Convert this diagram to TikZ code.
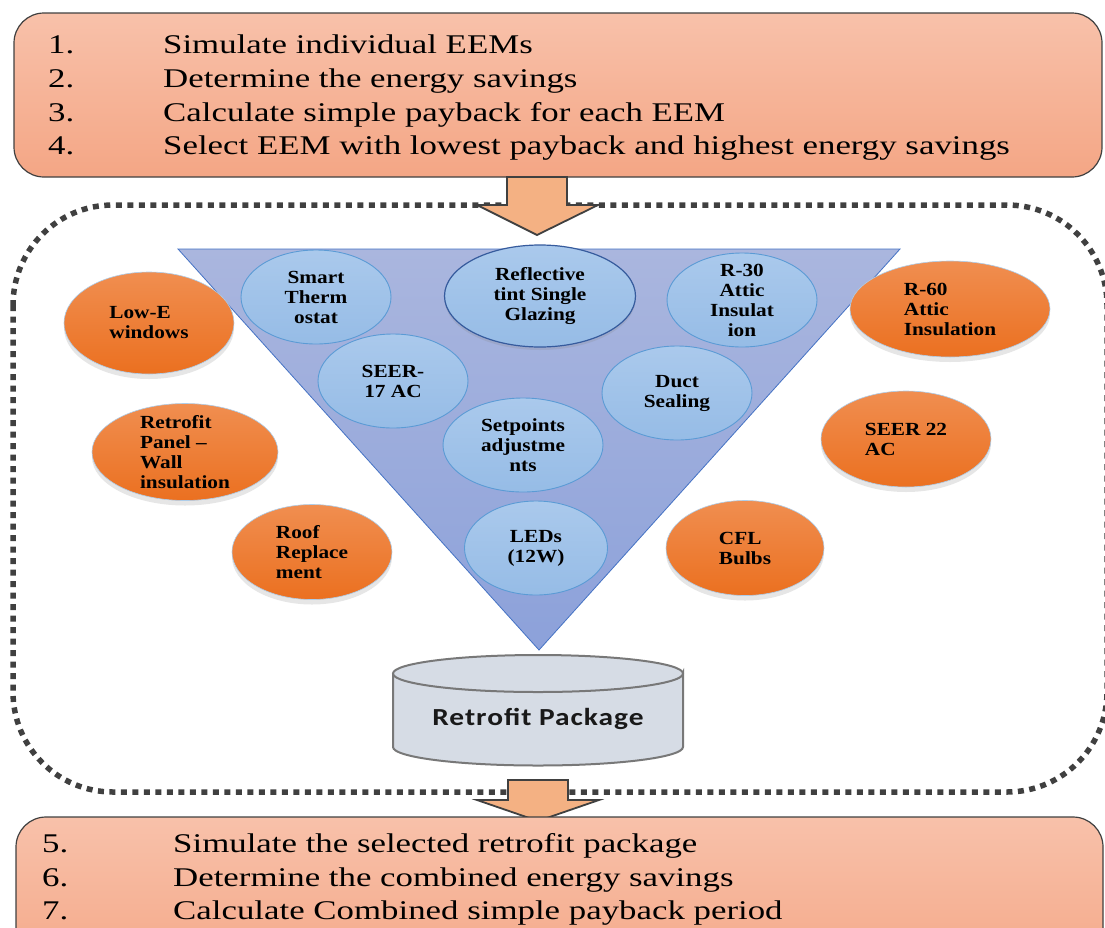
\documentclass[tikz,border=0pt]{standalone}
\usepackage{fontspec}
\setmainfont{Liberation Serif}
\newfontfamily\listfont[FakeStretch=1.29]{Liberation Serif}
\newfontfamily\eemfont[FakeStretch=1.15]{Liberation Serif}
\newfontfamily\pkgfont[FakeStretch=1.2, LetterSpace=4]{Carlito}
\usetikzlibrary{shapes.geometric, shadows, positioning}
\definecolor{boxtop}{RGB}{248,193,170}
\definecolor{boxbot}{RGB}{244,166,133}
\definecolor{boxline}{RGB}{64,64,64}
\definecolor{arrowfill}{RGB}{244,177,131}
\definecolor{funneltop}{RGB}{170,182,222}
\definecolor{funnelbot}{RGB}{140,161,218}
\definecolor{funnelline}{RGB}{68,114,196}
\definecolor{intop}{RGB}{170,201,236}
\definecolor{inbot}{RGB}{150,188,230}
\definecolor{inline}{RGB}{91,155,213}
\definecolor{outtop}{RGB}{240,142,80}
\definecolor{outbot}{RGB}{235,112,32}
\definecolor{pkgfill}{RGB}{214,220,229}
\definecolor{pkgline}{RGB}{120,120,120}

\begin{document}
\begin{tikzpicture}[x=1pt, y=-1pt,
  steptxt/.style={anchor=base west, inner sep=0, font=\listfont\fontsize{27}{33}\selectfont},
  stepbox/.style={draw=boxline, line width=1.2pt, rounded corners=30, top color=boxtop, bottom color=boxbot},
  blockarrow/.style={fill=arrowfill, draw=boxline, line width=1.8pt},
  eemin/.style={ellipse, draw=inline, line width=0.9pt, top color=intop, bottom color=inbot,
    align=center, inner sep=-12pt, font=\eemfont\fontsize{18.5}{20}\selectfont\bfseries},
  eemout/.style={ellipse, draw=inline!50, line width=0.6pt, top color=outtop, bottom color=outbot,
    align=left, inner sep=-12pt, font=\eemfont\fontsize{18.5}{20}\selectfont\bfseries,
    drop shadow={opacity=0.2, shadow xshift=0pt, shadow yshift=-5pt}}]

  \clip (0,0) rectangle (1105,927);

  % 上方步骤框
  \path[stepbox] (14,13) rectangle (1102,177);
  \node[steptxt] (n1) at (48,53)  {1.};
  \node[steptxt] (s1) at (163,53) {Simulate individual EEMs};
  \node[steptxt] (n2) at (48,87)  {2.};
  \node[steptxt] (s2) at (163,87) {Determine the energy savings};
  \node[steptxt] (n3) at (48,121) {3.};
  \node[steptxt] (s3) at (163,121) {Calculate simple payback for each EEM};
  \node[steptxt] (n4) at (48,154) {4.};
  \node[steptxt] (s4) at (163,154) {Select EEM with lowest payback and highest energy savings};

  % 虚线区域
  \draw[boxline, line width=5.5pt, dash pattern=on 6pt off 5.5pt, rounded corners=100]
    (13,205) rectangle (1107,792);

  % 第一个箭头
  \draw[blockarrow] (507,177) -- (567,177) -- (567,205) -- (598,205) -- (537,235)
    -- (477,205) -- (507,205) -- cycle;

  % 漏斗
  \draw[funnelline, line width=0.8pt, top color=funneltop, bottom color=funnelbot]
    (178,249) -- (900,249) -- (539,650) -- cycle;

  % 漏斗内的措施
  \node[eemin, minimum width=150, minimum height=94] (smart) at (316,297) {Smart\\Therm\\ostat};
  \node[eemin, draw=funnelline!80!black, line width=1.2pt, minimum width=191, minimum height=102,
    drop shadow={opacity=0.2, shadow xshift=0pt, shadow yshift=-3pt}] (glazing) at (540,296)
    {Reflective\\tint Single\\Glazing};
  \node[eemin, minimum width=150, minimum height=94] (rthirty) at (742,300) {R-30\\Attic\\Insulat\\ion};
  \node[eemin, minimum width=150, minimum height=94] (seerlow) at (393,381) {SEER-\\17 AC};
  \node[eemin, minimum width=150, minimum height=94] (duct) at (677,393) {Duct\\Sealing};
  \node[eemin, minimum width=160, minimum height=94] (setpt) at (523,445) {Setpoints\\adjustme\\nts};
  \node[eemin, minimum width=143, minimum height=94] (leds) at (536,548) {LEDs\\(12W)};

  % 漏斗外的措施
  \node[eemout, minimum width=170, minimum height=102] (lowe) at (149,323) {Low-E\\windows};
  \node[eemout, minimum width=186, minimum height=97] (panel) at (185,452) {Retrofit\\Panel –\\Wall\\insulation};
  \node[eemout, minimum width=160, minimum height=95] (roof) at (312,552) {Roof\\Replace\\ment};
  \node[eemout, minimum width=200, minimum height=96] (rsixty) at (950,309) {R-60\\Attic\\Insulation};
  \node[eemout, minimum width=170, minimum height=96] (seerhigh) at (906,439) {SEER 22\\AC};
  \node[eemout, minimum width=158, minimum height=95] (cfl) at (745,548) {CFL\\Bulbs};

  % 改造方案（圆柱）
  \draw[pkgline, line width=2pt, fill=pkgfill] (393,673) -- (393,747)
    arc[start angle=180, end angle=0, x radius=145, y radius=18.5] -- (683,673)
    arc[start angle=0, end angle=180, x radius=145, y radius=18.5];
  \draw[pkgline, line width=2pt, fill=pkgfill] (538,673.5) ellipse[x radius=145, y radius=18.5];
  \node[font=\pkgfont\bfseries\fontsize{24.5}{27}\selectfont, text=black!90] (pkg) at (538,719) {Retrofit Package};

  % 第二个箭头
  \draw[blockarrow] (508,780) -- (568,780) -- (568,800) -- (599,800) -- (538,821)
    -- (477,800) -- (508,800) -- cycle;

  % 下方步骤框
  \path[stepbox] (16,817) rectangle (1103,990);
  \node[steptxt] (n5) at (42,852)  {5.};
  \node[steptxt] (s5) at (173,852) {Simulate the selected retrofit package};
  \node[steptxt] (n6) at (42,886)  {6.};
  \node[steptxt] (s6) at (173,886) {Determine the combined energy savings};
  \node[steptxt] (n7) at (42,919)  {7.};
  \node[steptxt] (s7) at (173,919) {Calculate Combined simple payback period};

\end{tikzpicture}
\end{document}
